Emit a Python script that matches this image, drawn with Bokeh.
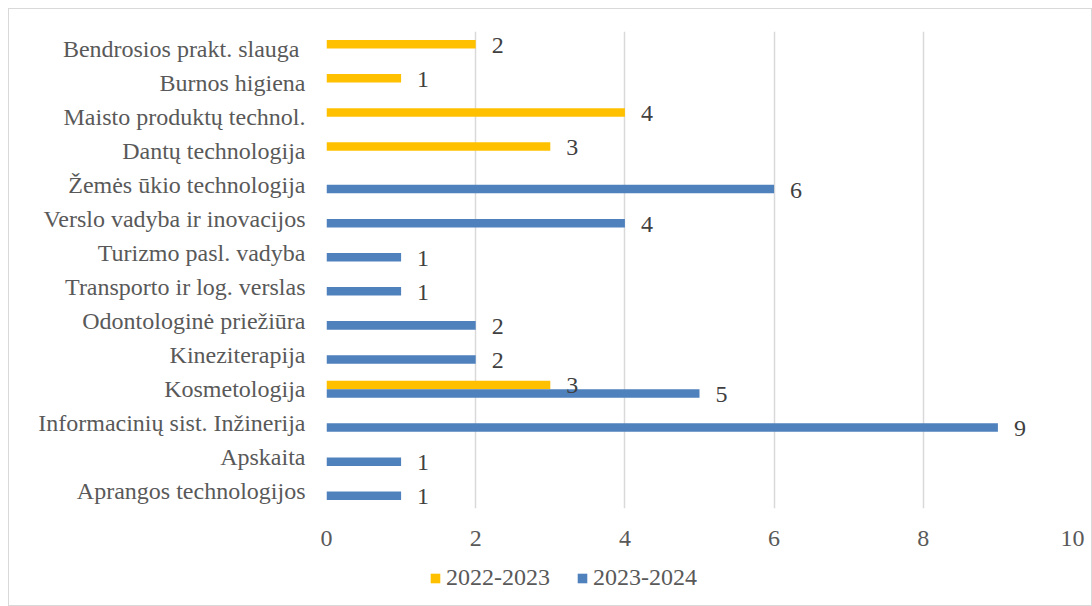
from bokeh.plotting import figure
from bokeh.layouts import column
from bokeh.models import ColumnDataSource, FactorRange, Range1d, FixedTicker, Legend, LegendItem
from bokeh.transform import dodge
from bokeh.core.properties import value
from bokeh.embed import file_html
from bokeh.resources import INLINE

categories = [
    "Aprangos technologijos",
    "Apskaita",
    "Informacinių sist. Inžinerija",
    "Kosmetologija",
    "Kineziterapija",
    "Odontologinė priežiūra",
    "Transporto ir log. verslas",
    "Turizmo pasl. vadyba",
    "Verslo vadyba ir inovacijos",
    "Žemės ūkio technologija",
    "Dantų technologija",
    "Maisto produktų technol.",
    "Burnos higiena",
    "Bendrosios prakt. slauga ",
]
values_2022_2023 = [0, 0, 0, 3, 0, 0, 0, 0, 0, 0, 3, 4, 1, 2]
values_2023_2024 = [1, 1, 9, 5, 2, 2, 1, 1, 4, 6, 0, 0, 0, 0]
series_names = ["2022-2023", "2023-2024"]
series_colors = ["#FFC000", "#4F81BD"]
x_ticks = [0, 2, 4, 6, 8, 10]

FONT = "Liberation Serif"
FS = "24px"
TXT = "#595959"

p = figure(
    width=1082, height=546,
    y_range=FactorRange(*categories, range_padding=0),
    x_range=Range1d(0, 10),
    output_backend="svg", toolbar_location=None,
    min_border_left=317, min_border_right=19, min_border_top=22, min_border_bottom=47,
)
p.outline_line_color = None
p.background_fill_color = "white"
p.border_fill_color = "white"

src = ColumnDataSource(dict(cat=categories, a=values_2022_2023, b=values_2023_2024))
p.hbar(y=dodge("cat", 0.125, range=p.y_range), left=0, right="a", height=0.25,
       source=src, fill_color=series_colors[0], line_color=None)
p.hbar(y=dodge("cat", -0.125, range=p.y_range), left=0, right="b", height=0.25,
       source=src, fill_color=series_colors[1], line_color=None)

for vals, off in ((values_2022_2023, 0.125), (values_2023_2024, -0.125)):
    cats = [c for c, v in zip(categories, vals) if v > 0]
    vs = [v for v in vals if v > 0]
    ls = ColumnDataSource(dict(cat=cats, v=vs, t=[str(v) for v in vs]))
    p.text(x="v", y=dodge("cat", off, range=p.y_range), text="t", source=ls,
           x_offset=16, y_offset=1, text_align="left", text_baseline="middle",
           text_font=value(FONT), text_font_size=FS, text_color="#404040")

p.xaxis.ticker = FixedTicker(ticks=x_ticks)
p.xgrid.ticker = FixedTicker(ticks=x_ticks)
p.xgrid.grid_line_color = "#d9d9d9"
p.xgrid.grid_line_width = 1.5
p.ygrid.grid_line_color = None

for ax in (p.xaxis[0], p.yaxis[0]):
    ax.axis_line_color = None
    ax.major_tick_line_color = None
    ax.minor_tick_line_color = None
    ax.major_label_text_font = FONT
    ax.major_label_text_font_size = FS
    ax.major_label_text_color = TXT
p.xaxis.major_label_standoff = 16
p.yaxis.major_label_standoff = 15

# legend strip (separate figure so the legend is not clipped by the main frame);
# its key renderers use the same values but lie wholly outside this strip's ranges.
lg = figure(
    width=1082, height=50, x_range=Range1d(20, 21), y_range=Range1d(5, 6),
    output_backend="svg", toolbar_location=None,
    x_axis_location=None, y_axis_location=None,
    min_border_left=0, min_border_right=0, min_border_top=0, min_border_bottom=0,
)
lg.outline_line_color = None
lg.xgrid.grid_line_color = None
lg.ygrid.grid_line_color = None
k1 = lg.hbar(y=0.5, left=0, right="a", height=0.5, source=src,
             fill_color=series_colors[0], line_color=None)
k2 = lg.hbar(y=0.5, left=0, right="b", height=0.5, source=src,
             fill_color=series_colors[1], line_color=None)

legend = Legend(
    items=[LegendItem(label=series_names[0], renderers=[k1]),
           LegendItem(label=series_names[1], renderers=[k2])],
    orientation="horizontal", location=(103, 14),
    label_text_font=FONT, label_text_font_size=FS, label_text_color=TXT,
    glyph_width=12, glyph_height=12, label_standoff=5, spacing=26,
    padding=0, margin=0, border_line_color=None, background_fill_alpha=0,
)
lg.add_layout(legend)

layout = column(p, lg, spacing=0,
                styles={"border": "1px solid #d9d9d9", "margin": "8px 0 0 8px"})

open("out.html", "w").write(file_html(layout, INLINE))
